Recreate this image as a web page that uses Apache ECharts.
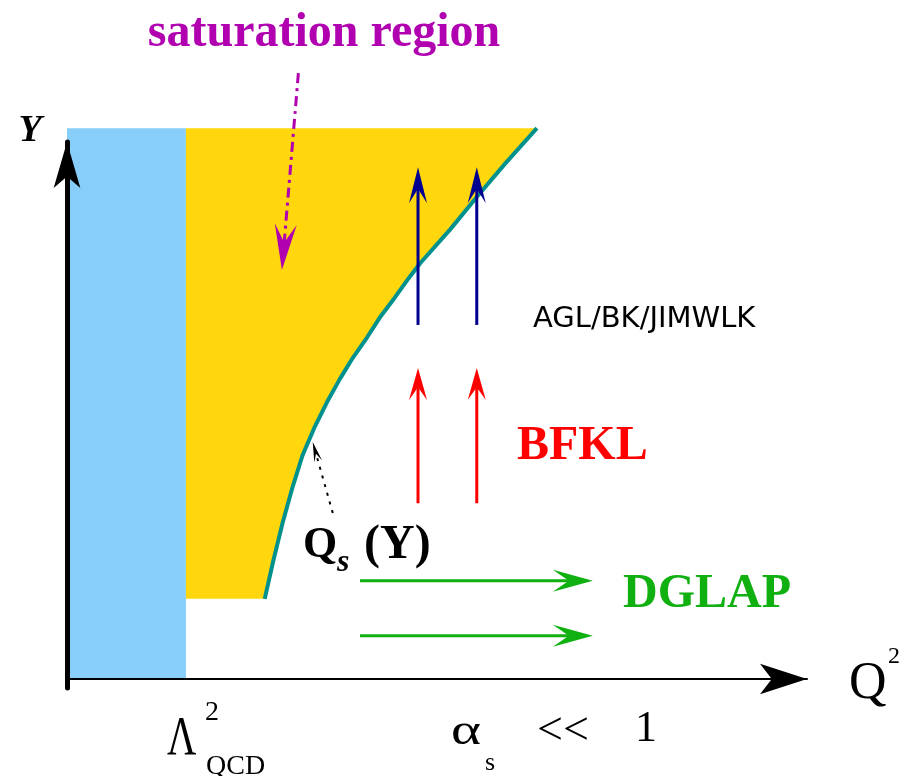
<!DOCTYPE html>
<html>
<head>
<meta charset="utf-8">
<script src="https://cdn.jsdelivr.net/npm/echarts@6/dist/echarts.min.js"></script>
<style>
  html, body { margin: 0; padding: 0; background: #ffffff; }
  #chart { width: 900px; height: 776px; }
</style>
</head>
<body>
<div id="chart"></div>
<script>
// Saturation line Q_s^2(Y) in diagram units (Q^2 across, rapidity Y up)
const satQ2 = [27.6, 28.8, 30.1, 31.5, 32.9, 34.5, 36.3, 38.1, 39.9, 41.9, 43.8, 45.8, 47.7, 49.3, 53.5, 57.2, 61.1, 65.6];
const satY  = [15.6, 23.0, 30.4, 37.4, 43.6, 48.8, 53.9, 58.4, 62.5, 66.5, 70.6, 74.3, 78.0, 80.9, 87.5, 93.8, 100.2, 107.2];

// Non-perturbative strip Q^2 < Lambda_QCD^2 and extent of the dense region
const lambdaQ2 = 16.6;
const yTop = 107.2;
const yFloor = 15.6;

// Evolution arrows, each [fromQ2, fromY, toQ2, toY]
const nonlinearArrows = [[49.0, 68.9, 49.0, 99.6], [57.2, 68.9, 57.2, 99.6]];
const bfklArrows      = [[49.0, 34.2, 49.0, 60.5], [57.2, 34.2, 57.2, 60.5]];
const dglapArrows     = [[40.9, 19.1, 73.4, 19.1], [40.9, 8.4, 73.4, 8.4]];
const saturationPointer = [[32.3, 117.9, 30.0, 79.6]];
const qsPointer         = [[37.1, 32.3, 34.3, 46.1]];

const SERIF = '"Liberation Serif", "DejaVu Serif", serif';

// A straight arrow with a notched head, laid out through the cartesian axes
function arrowSeries(data, color, width, headLen, headW, dash) {
  return {
    type: 'custom',
    data: data,
    z: 6,
    clip: false,
    silent: true,
    renderItem: function (params, api) {
      const a = api.coord([api.value(0), api.value(1)]);
      const b = api.coord([api.value(2), api.value(3)]);
      const dx = b[0] - a[0], dy = b[1] - a[1];
      const len = Math.sqrt(dx * dx + dy * dy);
      const ux = dx / len, uy = dy / len;
      const nx = -uy, ny = ux;
      const bx = b[0] - ux * headLen, by = b[1] - uy * headLen;
      const mx = b[0] - ux * headLen * 0.6, my = b[1] - uy * headLen * 0.6;
      return {
        type: 'group',
        children: [
          {
            type: 'line',
            shape: { x1: a[0], y1: a[1], x2: mx, y2: my },
            style: { stroke: color, lineWidth: width, lineDash: dash || null }
          },
          {
            type: 'polygon',
            shape: { points: [
              [b[0], b[1]],
              [bx + nx * headW / 2, by + ny * headW / 2],
              [mx, my],
              [bx - nx * headW / 2, by - ny * headW / 2]
            ] },
            style: { fill: color }
          }
        ]
      };
    }
  };
}

function text(str, x, y, size, color, opts) {
  opts = opts || {};
  return {
    type: 'text',
    x: x, y: y, z: 100,
    scaleX: opts.scaleX || 1,
    style: {
      text: str,
      fill: color,
      font: (opts.style || 'normal') + ' ' + (opts.weight || 'normal') + ' ' + size + 'px ' + (opts.family || SERIF),
      align: opts.align || 'left',
      verticalAlign: 'middle'
    }
  };
}

const satPoints = satQ2.map(function (q, i) { return [q, satY[i]]; });

const chart = echarts.init(document.getElementById('chart'), null, { renderer: 'canvas' });

chart.setOption({
  animation: false,
  backgroundColor: '#ffffff',
  grid: { left: 67, right: 93, top: 142, bottom: 88 },
  xAxis: {
    type: 'value', min: 0, max: 103.3, z: 10,
    axisLine: { show: true, onZero: true, symbol: ['none', 'arrow'], symbolSize: [23, 47],
                lineStyle: { color: '#000000', width: 2 } },
    axisTick: { show: false }, axisLabel: { show: false }, splitLine: { show: false }
  },
  yAxis: {
    type: 'value', min: -1.75, max: 104.5, z: 10,
    axisLine: { show: true, onZero: false, symbol: ['none', 'arrow'], symbolSize: [20, 46],
                lineStyle: { color: '#000000', width: 5 } },
    axisTick: { show: false }, axisLabel: { show: false }, splitLine: { show: false }
  },
  series: [
    // Non-perturbative region below Lambda_QCD^2
    {
      type: 'custom', data: [[0, 0, lambdaQ2, yTop]], z: 1, clip: false, silent: true,
      renderItem: function (params, api) {
        const p0 = api.coord([api.value(0), api.value(1)]);
        const p1 = api.coord([api.value(2), api.value(3)]);
        return { type: 'rect', shape: { x: p0[0], y: p1[1], width: p1[0] - p0[0], height: p0[1] - p1[1] },
                 style: { fill: '#87cefa' } };
      }
    },
    // Saturation region, bounded on the right by Q_s^2(Y)
    {
      type: 'custom', data: [[lambdaQ2, yFloor, yTop]], z: 2, clip: false, silent: true,
      renderItem: function (params, api) {
        const pts = [[lambdaQ2, yTop]];
        for (let i = satPoints.length - 1; i >= 0; i--) pts.push(satPoints[i]);
        pts.push([satQ2[0], yFloor]);
        pts.push([lambdaQ2, yFloor]);
        return { type: 'polygon', shape: { points: pts.map(function (p) { return api.coord(p); }) },
                 style: { fill: '#ffd70c' } };
      }
    },
    // The saturation line itself
    {
      type: 'line', data: satPoints, z: 4, clip: false, silent: true,
      showSymbol: false,
      lineStyle: { color: '#00918c', width: 4 }
    },
    arrowSeries(nonlinearArrows, '#000090', 3, 36, 18),
    arrowSeries(bfklArrows, '#ff0000', 3, 32, 18),
    arrowSeries(dglapArrows, '#10b010', 3, 40, 22),
    arrowSeries(saturationPointer, '#b000b0', 3, 46, 22, [10, 5, 3, 5]),
    arrowSeries(qsPointer, '#000000', 2, 20, 8, [3, 6])
  ],
  graphic: [
    text('saturation region', 324, 34, 48, '#b000b0', { weight: 'bold', align: 'center' }),
    text('Y', 30, 131, 38, '#000000', { weight: 'bold', style: 'italic', align: 'center' }),
    text('AGL/BK/JIMWLK', 533, 319, 29, '#000000', { family: '"DejaVu Sans", sans-serif' }),
    text('BFKL', 517, 447, 48, '#ff0000', { weight: 'bold' }),
    text('DGLAP', 623, 595, 48, '#10b010', { weight: 'bold' }),
    text('Q', 303, 546, 44, '#000000', { weight: 'bold' }),
    text('s', 337, 563, 32, '#000000', { weight: 'bold', style: 'italic' }),
    text('(Y)', 364, 546, 48, '#000000', { weight: 'bold' }),
    text('Q', 849, 684, 52, '#000000'),
    text('2', 888, 657, 24, '#000000'),
    text('\u039B', 167, 740, 54, '#000000', { scaleX: 0.75 }),
    text('2', 205, 713, 28, '#000000'),
    text('QCD', 206, 767, 28, '#000000'),
    text('\u03B1', 451, 732, 44, '#000000', { scaleX: 1.3 }),
    text('s', 485, 763, 26, '#000000'),
    text('<<', 537, 732, 46, '#000000'),
    text('1', 635, 729, 44, '#000000')
  ]
});
</script>
</body>
</html>
